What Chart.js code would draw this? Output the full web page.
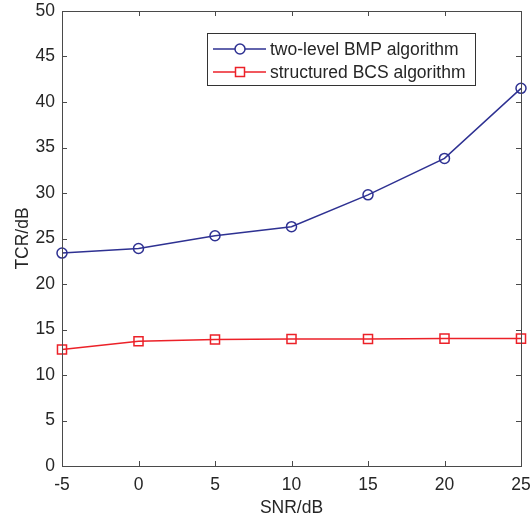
<!DOCTYPE html>
<html>
<head>
<meta charset="utf-8">
<script src="https://cdn.jsdelivr.net/npm/chart.js@4/dist/chart.umd.min.js"></script>
<style>
  html, body { margin: 0; padding: 0; background: #fff; }
  #wrap { width: 530px; height: 524px; position: relative; }
</style>
</head>
<body>
<div id="wrap"><canvas id="chart"></canvas></div>
<script>
// datos
const snr = [-5, 0, 5, 10, 15, 20, 25];
const bmpTCR = [23.4, 23.9, 25.3, 26.3, 29.8, 33.8, 41.5];
const bcsTCR = [12.8, 13.7, 13.9, 13.95, 13.95, 14.0, 14.0];
const seriesNames = ['two-level BMP algorithm', 'structured BCS algorithm'];
const xTicks = [-5, 0, 5, 10, 15, 20, 25];
const yTicks = [0, 5, 10, 15, 20, 25, 30, 35, 40, 45, 50];

const axisColor = '#4a4a4a';
const fontFam = '"Liberation Sans", Arial, sans-serif';
const fs = 17.5;
const blue = '#2e3192';
const red = '#ec2128';

function toPoints(xs, ys) {
  return xs.map((x, i) => ({ x: x, y: ys[i] }));
}

// caja, marcas hacia dentro y leyenda estilo matlab
const boxPlugin = {
  id: 'boxPlugin',
  afterDraw(chart) {
    const ctx = chart.ctx;
    const a = chart.chartArea;
    const xs = chart.scales.x, ys = chart.scales.y;
    ctx.save();
    ctx.strokeStyle = axisColor;
    ctx.lineWidth = 1;
    ctx.beginPath();
    ctx.rect(Math.round(a.left) + 0.5, Math.round(a.top) + 0.5,
             Math.round(a.right - a.left), Math.round(a.bottom - a.top));
    const tl = 5;
    xTicks.forEach(v => {
      const px = Math.round(xs.getPixelForValue(v)) + 0.5;
      ctx.moveTo(px, a.bottom); ctx.lineTo(px, a.bottom - tl);
      ctx.moveTo(px, a.top); ctx.lineTo(px, a.top + tl);
    });
    yTicks.forEach(v => {
      const py = Math.round(ys.getPixelForValue(v)) + 0.5;
      ctx.moveTo(a.left, py); ctx.lineTo(a.left + tl, py);
      ctx.moveTo(a.right, py); ctx.lineTo(a.right - tl, py);
    });
    ctx.stroke();

    // leyenda
    const lx = 207, ly = 33, lw = 268, lh = 52;
    ctx.fillStyle = '#fff';
    ctx.fillRect(lx, ly, lw, lh);
    ctx.strokeStyle = '#333';
    ctx.strokeRect(lx + 0.5, ly + 0.5, lw, lh);
    const rows = [
      { name: seriesNames[0], color: blue, style: 'circle', y: 49 },
      { name: seriesNames[1], color: red, style: 'rect', y: 72 }
    ];
    ctx.font = fs + 'px ' + fontFam;
    ctx.textBaseline = 'middle';
    rows.forEach(r => {
      ctx.strokeStyle = r.color;
      ctx.lineWidth = 1.5;
      ctx.beginPath();
      ctx.moveTo(213, r.y); ctx.lineTo(266, r.y);
      ctx.stroke();
      ctx.beginPath();
      if (r.style === 'circle') {
        ctx.arc(240, r.y, 5, 0, Math.PI * 2);
      } else {
        ctx.rect(235.5, r.y - 4.5, 9, 9);
      }
      ctx.fillStyle = '#fff';
      ctx.fill();
      ctx.stroke();
      ctx.fillStyle = '#262626';
      ctx.fillText(r.name, 270, r.y + 1);
    });
    ctx.restore();
  }
};

const ctx = document.getElementById('chart').getContext('2d');
new Chart(ctx, {
  type: 'line',
  data: {
    datasets: [
      {
        label: seriesNames[0],
        data: toPoints(snr, bmpTCR),
        borderColor: blue,
        backgroundColor: 'rgba(255,255,255,0)',
        borderWidth: 1.5,
        pointStyle: 'circle',
        pointRadius: 5,
        pointBorderWidth: 1.5,
        pointBorderColor: blue,
        tension: 0
      },
      {
        label: seriesNames[1],
        data: toPoints(snr, bcsTCR),
        borderColor: red,
        backgroundColor: 'rgba(255,255,255,0)',
        borderWidth: 1.5,
        pointStyle: 'rect',
        pointRadius: 6.4,
        pointBorderWidth: 1.5,
        pointBorderColor: red,
        tension: 0
      }
    ]
  },
  options: {
    responsive: true,
    maintainAspectRatio: false,
    animation: false,
    clip: false,
    layout: { padding: { top: 11, right: 9, bottom: 0, left: 0 } },
    plugins: {
      legend: { display: false },
      tooltip: { enabled: false }
    },
    scales: {
      x: {
        type: 'linear',
        min: -5,
        max: 25,
        afterFit: s => { s.height = 58; s.paddingLeft = 0; s.paddingRight = 0; },
        afterBuildTicks: s => { s.ticks = xTicks.map(v => ({ value: v })); },
        grid: { display: true, drawOnChartArea: false, drawTicks: false },
        border: { display: true, color: axisColor },
        ticks: { color: '#262626', font: { family: fontFam, size: fs }, padding: 9, maxRotation: 0 },
        title: { display: true, text: 'SNR/dB', color: '#262626', font: { family: fontFam, size: fs }, padding: { top: 0, bottom: 5 } }
      },
      y: {
        min: 0,
        max: 50,
        afterFit: s => { s.width = 62; s.paddingTop = 0; s.paddingBottom = 0; },
        afterBuildTicks: s => { s.ticks = yTicks.map(v => ({ value: v })); },
        grid: { display: true, drawOnChartArea: false, drawTicks: false },
        border: { display: true, color: axisColor },
        ticks: { color: '#262626', font: { family: fontFam, size: fs }, padding: 7 },
        title: { display: true, text: 'TCR/dB', color: '#262626', font: { family: fontFam, size: fs }, padding: { top: 13, bottom: 0 } }
      }
    }
  },
  plugins: [boxPlugin]
});
</script>
</body>
</html>
